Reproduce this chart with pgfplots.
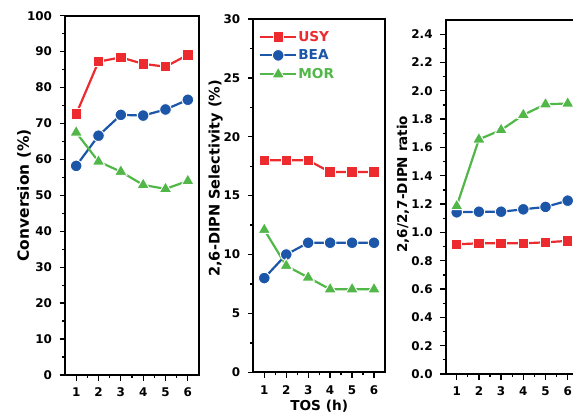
\documentclass[border=0pt]{standalone}
\usepackage{pgfplots}
\pgfplotsset{compat=1.18}
\usepackage{fontspec}
\setmainfont{DejaVu Sans}
\definecolor{cr}{RGB}{237,43,47}
\definecolor{cb}{RGB}{28,86,168}
\definecolor{cg}{RGB}{82,183,73}
\begin{document}
\begin{tikzpicture}[x=1bp,y=1bp]
\useasboundingbox (0,0) rectangle (573,413);
\clip (0,0) rectangle (573,413);
\pgfplotsset{
  myax/.style={scale only axis, anchor=south west,
    xmin=0.5, xmax=6.5, xtick={1,2,3,4,5,6},
    minor x tick num=1, minor y tick num=1,
    tick align=outside, xtick pos=bottom, ytick pos=left,
    axis line style={line width=1.8bp},
    major tick length=5.5bp, minor tick length=3bp,
    tick style={line width=1.3bp, black},
    tick label style={font=\bfseries\fontsize{12}{12}\selectfont},
    xticklabel style={yshift=-4bp},
    yticklabel style={xshift=-4bp},
    /pgf/number format/assume math mode=true,
    every axis y label/.style={rotate=90, anchor=center},
  },
  usy/.style={color=cr, line width=2.2bp, mark=square*, mark size=5.2bp,
    mark options={fill=cr, draw=white, line width=0.9bp, solid}},
  bea/.style={color=cb, line width=2.2bp, mark=*, mark size=5.8bp,
    mark options={fill=cb, draw=white, line width=0.9bp, solid}},
  mor/.style={color=cg, line width=2.2bp, mark=triangle*, mark size=7.2bp,
    mark options={fill=cg, draw=white, line width=0.9bp, solid}},
}
% Panel 1
\begin{axis}[myax, at={(65bp,38bp)}, width=134bp, height=359.3bp,
  ymin=0, ymax=100, ytick={0,10,...,100},
  ylabel={\bfseries\fontsize{15.5}{16}\selectfont Conversion (\%)},
  ylabel style={at={(rel axis cs:-0.305,0.5)}}]
\addplot[usy] coordinates {(1,72.6) (2,87.2) (3,88.4) (4,86.6) (5,85.8) (6,89.1)};
\addplot[bea] coordinates {(1,58.2) (2,66.6) (3,72.4) (4,72.2) (5,73.9) (6,76.6)};
\addplot[mor] coordinates {(1,67.5) (2,59.4) (3,56.6) (4,52.9) (5,51.8) (6,54.0)};
\end{axis}
% Panel 2
\begin{axis}[myax, at={(253.3bp,40.7bp)}, width=131.7bp, height=353.3bp,
  ymin=0, ymax=30, ytick={0,5,...,30},
  ylabel={\bfseries\fontsize{14.6}{15}\selectfont 2,6-DIPN Selectivity (\%)},
  ylabel style={at={(rel axis cs:-0.285,0.549)}},
  xlabel={\bfseries\fontsize{13.7}{14}\selectfont TOS (h)},
  xlabel style={at={(rel axis cs:0.5,-0.097)}, anchor=center},
  legend style={draw=none, fill=none, at={(rel axis cs:0.02,0.975)}, anchor=north west,
    font=\bfseries\fontsize{13.7}{14}\selectfont, row sep=5bp,
    nodes={inner sep=1bp}},
  legend cell align=left,
  legend image code/.code={\draw[mark repeat=2,mark phase=2,#1] plot coordinates {(0bp,0bp) (18bp,0bp) (36bp,0bp)};}]
\addplot[usy] coordinates {(1,18) (2,18) (3,18) (4,17) (5,17) (6,17)};
\addlegendentry{\textcolor{cr}{USY}}
\addplot[bea] coordinates {(1,8) (2,10) (3,11) (4,11) (5,11) (6,11)};
\addlegendentry{\textcolor{cb}{BEA}}
\addplot[mor] coordinates {(1,12.1) (2,9.05) (3,8.05) (4,7.05) (5,7.05) (6,7.05)};
\addlegendentry{\textcolor{cg}{MOR}}
\end{axis}
% Panel 3
\begin{axis}[myax, at={(445.6bp,39bp)}, width=133.2bp, height=354bp,
  ymin=0, ymax=2.5, ytick={0,0.2,...,2.41},
  yticklabel style={/pgf/number format/.cd, fixed, fixed zerofill, precision=1},
  ylabel={\bfseries\fontsize{13.6}{14}\selectfont 2,6/2,7-DIPN ratio},
  ylabel style={at={(rel axis cs:-0.32,0.536)}}]
\addplot[usy] coordinates {(1,0.916) (2,0.923) (3,0.923) (4,0.923) (5,0.93) (6,0.94)};
\addplot[bea] coordinates {(1,1.142) (2,1.146) (3,1.146) (4,1.163) (5,1.18) (6,1.224)};
\addplot[mor] coordinates {(1,1.186) (2,1.657) (3,1.723) (4,1.83) (5,1.905) (6,1.91)};
\end{axis}
\end{tikzpicture}
\end{document}
